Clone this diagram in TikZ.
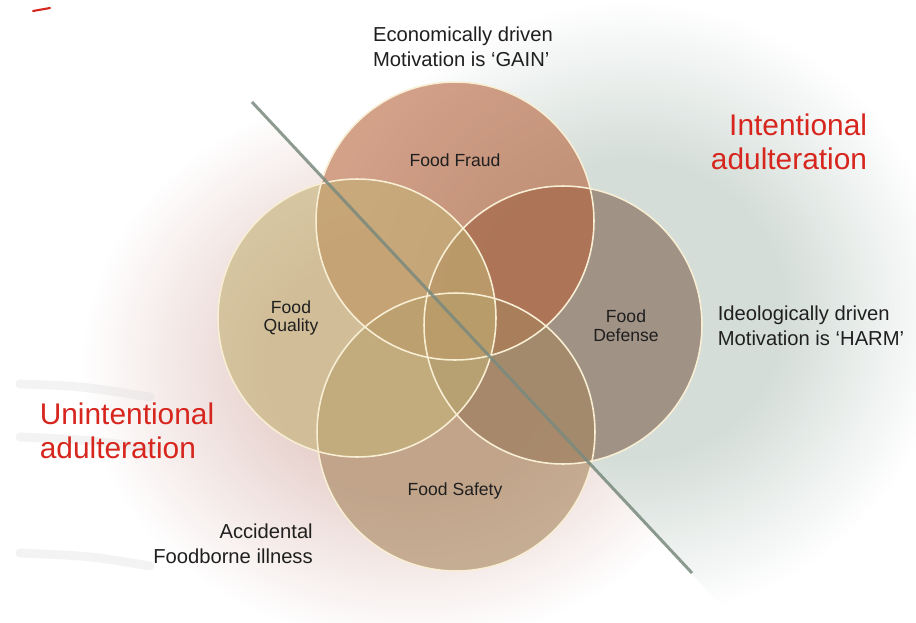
\documentclass[tikz,border=0pt]{standalone}
\usepackage{fontspec}
\setmainfont{Liberation Sans}

\definecolor{fraudc}{RGB}{182,97,58}
\definecolor{defensec}{RGB}{127,97,80}
\definecolor{safetyc}{RGB}{167,133,92}
\definecolor{qualityc}{RGB}{195,177,117}
\definecolor{rimc}{RGB}{248,238,212}
\definecolor{glowpink}{RGB}{232,211,207}
\definecolor{glowgreen}{RGB}{212,221,216}
\definecolor{splitc}{RGB}{122,138,126}
\definecolor{intentc}{RGB}{214,38,30}
\definecolor{swooshc}{RGB}{222,222,222}

\pgfdeclareradialshading{pinkglow}{\pgfpoint{0bp}{0bp}}{color(0bp)=(glowpink);color(11bp)=(glowpink);color(25bp)=(white);color(50bp)=(white)}
\pgfdeclareradialshading{greenglow}{\pgfpoint{0bp}{0bp}}{color(0bp)=(glowgreen);color(12bp)=(glowgreen);color(25bp)=(white);color(50bp)=(white)}

\begin{document}
\begin{tikzpicture}[x=0.02cm,y=-0.02cm,
    ring/.style={fill opacity=0.6},
    rim/.style={draw=rimc,line width=0.9pt},
    inlabel/.style={font=\fontsize{10}{10.6}\selectfont,align=center,text=black!88},
    note/.style={font=\fontsize{11.5}{14.4}\selectfont,text=black!88},
    redtitle/.style={font=\fontsize{17}{19.5}\selectfont,text=intentc},
    swoosh/.style={swooshc,line width=5pt,line cap=round,opacity=0.35}]
    \useasboundingbox (0,0) rectangle (916,622);
    \fill[white] (0,0) rectangle (916,622);

    \coordinate (splitA) at (252,102);
    \coordinate (splitB) at (692,573);

    % background glow either side of the split
    \begin{scope}
        \clip (-188,-370) -- (1132,1046) -- (-400,1046) -- cycle;
        \shade[shading=pinkglow] (410,365) ellipse [x radius=6.6cm,y radius=5.6cm];
    \end{scope}
    \begin{scope}
        \clip (-188,-370) -- (1132,1046) -- (1300,-400) -- cycle;
        \shade[shading=greenglow] (630,310) ellipse [x radius=6.4cm,y radius=6.2cm];
    \end{scope}
    \draw[swoosh] (20,384) .. controls (80,386) .. (150,397);
    \draw[swoosh] (20,437) .. controls (90,440) .. (155,449);
    \draw[swoosh] (20,553) .. controls (90,556) .. (150,566);
    \draw[intentc,line width=1.2pt,line cap=round] (33,11) -- (50,8);

    \coordinate (fraud) at (455,221);
    \coordinate (defense) at (563,325);
    \coordinate (safety) at (456,432);
    \coordinate (quality) at (357,318);

    \fill[defensec,ring] (defense) circle (2.78cm);
    \fill[fraudc,ring] (fraud) circle (2.78cm);
    \fill[safetyc,ring] (safety) circle (2.78cm);
    \fill[qualityc,ring] (quality) circle (2.78cm);
    \foreach \c in {fraud,defense,safety,quality}
        \draw[rim] (\c) circle (2.78cm);

    \draw[splitc,line width=1.7pt,opacity=0.85] (splitA) -- (splitB);

    \node[inlabel] (fraudlbl) at (455,160) {Food Fraud};
    \node[inlabel] (qualitylbl) at (291,318) {Food\\Quality};
    \node[inlabel] (defenselbl) at (626,326) {Food\\Defense};
    \node[inlabel] (safetylbl) at (455,491) {Food Safety};

    \node[note,align=left] (gain) at (463,47) {Economically driven\\Motivation is `GAIN'};
    \node[note,align=left] (harm) at (811,326) {Ideologically driven\\Motivation is `HARM'};
    \node[note,align=right] (accid) at (233,544) {Accidental\\Foodborne illness};
    \node[redtitle,align=right] (intent) at (789,142) {Intentional\\adulteration};
    \node[redtitle,align=left] (unintent) at (127,431) {Unintentional\\adulteration};
\end{tikzpicture}
\end{document}
